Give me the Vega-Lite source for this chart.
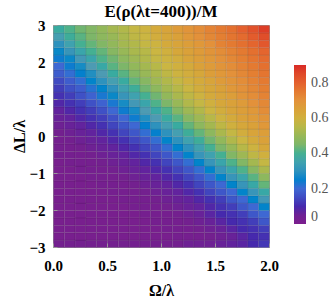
{
"$schema":"https://vega.github.io/schema/vega-lite/v6.json",
"width":216,"height":222,
"autosize":{"type":"none"},
"padding":{"left":53,"top":25,"right":63,"bottom":52},
"background":"white",
"title":{"text":"E(ρ(λt=400))/M","font":"Liberation Serif","fontSize":17,"fontWeight":"bold","color":"#000","anchor":"middle","frame":"group","offset":-3},
"config":{"view":{"stroke":"#b0b0b0"},"font":"Liberation Serif"},
"data":{"values":[
{"x":0,"y":-3,"v":0.04},{"x":0,"y":-2.8,"v":0.02},{"x":0,"y":-2.6,"v":0.02},{"x":0,"y":-2.4,"v":0.02},{"x":0,"y":-2.2,"v":0.02},{"x":0,"y":-2,"v":0.02},{"x":0,"y":-1.8,"v":0.02},{"x":0,"y":-1.6,"v":0.02},{"x":0,"y":-1.4,"v":0.02},{"x":0,"y":-1.2,"v":0.02},{"x":0,"y":-1,"v":0.02},{"x":0,"y":-0.8,"v":0.02},{"x":0,"y":-0.6,"v":0.03},{"x":0,"y":-0.4,"v":0.03},{"x":0,"y":-0.2,"v":0.03},{"x":0,"y":0,"v":0.04},{"x":0,"y":0.2,"v":0.05},{"x":0,"y":0.4,"v":0.06},{"x":0,"y":0.6,"v":0.07},{"x":0,"y":0.8,"v":0.09},{"x":0,"y":1,"v":0.11},{"x":0,"y":1.2,"v":0.13},{"x":0,"y":1.4,"v":0.15},{"x":0,"y":1.6,"v":0.18},{"x":0,"y":1.8,"v":0.2},{"x":0,"y":2,"v":0.24},{"x":0,"y":2.2,"v":0.27},{"x":0,"y":2.4,"v":0.3},{"x":0,"y":2.6,"v":0.34},{"x":0,"y":2.8,"v":0.38},
{"x":0.1,"y":-3,"v":0.04},{"x":0.1,"y":-2.8,"v":0.02},{"x":0.1,"y":-2.6,"v":0.02},{"x":0.1,"y":-2.4,"v":0.02},{"x":0.1,"y":-2.2,"v":0.02},{"x":0.1,"y":-2,"v":0.02},{"x":0.1,"y":-1.8,"v":0.02},{"x":0.1,"y":-1.6,"v":0.02},{"x":0.1,"y":-1.4,"v":0.02},{"x":0.1,"y":-1.2,"v":0.02},{"x":0.1,"y":-1,"v":0.02},{"x":0.1,"y":-0.8,"v":0.03},{"x":0.1,"y":-0.6,"v":0.03},{"x":0.1,"y":-0.4,"v":0.03},{"x":0.1,"y":-0.2,"v":0.04},{"x":0.1,"y":0,"v":0.05},{"x":0.1,"y":0.2,"v":0.06},{"x":0.1,"y":0.4,"v":0.07},{"x":0.1,"y":0.6,"v":0.09},{"x":0.1,"y":0.8,"v":0.11},{"x":0.1,"y":1,"v":0.13},{"x":0.1,"y":1.2,"v":0.16},{"x":0.1,"y":1.4,"v":0.18},{"x":0.1,"y":1.6,"v":0.21},{"x":0.1,"y":1.8,"v":0.24},{"x":0.1,"y":2,"v":0.27},{"x":0.1,"y":2.2,"v":0.31},{"x":0.1,"y":2.4,"v":0.35},{"x":0.1,"y":2.6,"v":0.39},{"x":0.1,"y":2.8,"v":0.41},
{"x":0.2,"y":-3,"v":0.04},{"x":0.2,"y":-2.8,"v":0.02},{"x":0.2,"y":-2.6,"v":0.02},{"x":0.2,"y":-2.4,"v":0.02},{"x":0.2,"y":-2.2,"v":0.02},{"x":0.2,"y":-2,"v":0.02},{"x":0.2,"y":-1.8,"v":0.02},{"x":0.2,"y":-1.6,"v":0.02},{"x":0.2,"y":-1.4,"v":0.02},{"x":0.2,"y":-1.2,"v":0.02},{"x":0.2,"y":-1,"v":0.03},{"x":0.2,"y":-0.8,"v":0.03},{"x":0.2,"y":-0.6,"v":0.03},{"x":0.2,"y":-0.4,"v":0.04},{"x":0.2,"y":-0.2,"v":0.05},{"x":0.2,"y":0,"v":0.06},{"x":0.2,"y":0.2,"v":0.07},{"x":0.2,"y":0.4,"v":0.09},{"x":0.2,"y":0.6,"v":0.11},{"x":0.2,"y":0.8,"v":0.13},{"x":0.2,"y":1,"v":0.16},{"x":0.2,"y":1.2,"v":0.18},{"x":0.2,"y":1.4,"v":0.21},{"x":0.2,"y":1.6,"v":0.25},{"x":0.2,"y":1.8,"v":0.28},{"x":0.2,"y":2,"v":0.32},{"x":0.2,"y":2.2,"v":0.36},{"x":0.2,"y":2.4,"v":0.4},{"x":0.2,"y":2.6,"v":0.42},{"x":0.2,"y":2.8,"v":0.44},
{"x":0.3,"y":-3,"v":0.04},{"x":0.3,"y":-2.8,"v":0.02},{"x":0.3,"y":-2.6,"v":0.02},{"x":0.3,"y":-2.4,"v":0.02},{"x":0.3,"y":-2.2,"v":0.02},{"x":0.3,"y":-2,"v":0.02},{"x":0.3,"y":-1.8,"v":0.02},{"x":0.3,"y":-1.6,"v":0.02},{"x":0.3,"y":-1.4,"v":0.02},{"x":0.3,"y":-1.2,"v":0.03},{"x":0.3,"y":-1,"v":0.03},{"x":0.3,"y":-0.8,"v":0.03},{"x":0.3,"y":-0.6,"v":0.04},{"x":0.3,"y":-0.4,"v":0.05},{"x":0.3,"y":-0.2,"v":0.06},{"x":0.3,"y":0,"v":0.07},{"x":0.3,"y":0.2,"v":0.09},{"x":0.3,"y":0.4,"v":0.11},{"x":0.3,"y":0.6,"v":0.13},{"x":0.3,"y":0.8,"v":0.16},{"x":0.3,"y":1,"v":0.19},{"x":0.3,"y":1.2,"v":0.22},{"x":0.3,"y":1.4,"v":0.26},{"x":0.3,"y":1.6,"v":0.29},{"x":0.3,"y":1.8,"v":0.33},{"x":0.3,"y":2,"v":0.36},{"x":0.3,"y":2.2,"v":0.4},{"x":0.3,"y":2.4,"v":0.43},{"x":0.3,"y":2.6,"v":0.45},{"x":0.3,"y":2.8,"v":0.46},
{"x":0.4,"y":-3,"v":0.04},{"x":0.4,"y":-2.8,"v":0.02},{"x":0.4,"y":-2.6,"v":0.02},{"x":0.4,"y":-2.4,"v":0.02},{"x":0.4,"y":-2.2,"v":0.02},{"x":0.4,"y":-2,"v":0.02},{"x":0.4,"y":-1.8,"v":0.02},{"x":0.4,"y":-1.6,"v":0.02},{"x":0.4,"y":-1.4,"v":0.03},{"x":0.4,"y":-1.2,"v":0.03},{"x":0.4,"y":-1,"v":0.03},{"x":0.4,"y":-0.8,"v":0.04},{"x":0.4,"y":-0.6,"v":0.05},{"x":0.4,"y":-0.4,"v":0.06},{"x":0.4,"y":-0.2,"v":0.07},{"x":0.4,"y":0,"v":0.09},{"x":0.4,"y":0.2,"v":0.11},{"x":0.4,"y":0.4,"v":0.13},{"x":0.4,"y":0.6,"v":0.16},{"x":0.4,"y":0.8,"v":0.19},{"x":0.4,"y":1,"v":0.23},{"x":0.4,"y":1.2,"v":0.26},{"x":0.4,"y":1.4,"v":0.3},{"x":0.4,"y":1.6,"v":0.33},{"x":0.4,"y":1.8,"v":0.37},{"x":0.4,"y":2,"v":0.41},{"x":0.4,"y":2.2,"v":0.43},{"x":0.4,"y":2.4,"v":0.46},{"x":0.4,"y":2.6,"v":0.48},{"x":0.4,"y":2.8,"v":0.49},
{"x":0.5,"y":-3,"v":0.04},{"x":0.5,"y":-2.8,"v":0.02},{"x":0.5,"y":-2.6,"v":0.02},{"x":0.5,"y":-2.4,"v":0.02},{"x":0.5,"y":-2.2,"v":0.02},{"x":0.5,"y":-2,"v":0.02},{"x":0.5,"y":-1.8,"v":0.02},{"x":0.5,"y":-1.6,"v":0.03},{"x":0.5,"y":-1.4,"v":0.03},{"x":0.5,"y":-1.2,"v":0.03},{"x":0.5,"y":-1,"v":0.04},{"x":0.5,"y":-0.8,"v":0.05},{"x":0.5,"y":-0.6,"v":0.06},{"x":0.5,"y":-0.4,"v":0.07},{"x":0.5,"y":-0.2,"v":0.09},{"x":0.5,"y":0,"v":0.11},{"x":0.5,"y":0.2,"v":0.14},{"x":0.5,"y":0.4,"v":0.16},{"x":0.5,"y":0.6,"v":0.2},{"x":0.5,"y":0.8,"v":0.23},{"x":0.5,"y":1,"v":0.27},{"x":0.5,"y":1.2,"v":0.3},{"x":0.5,"y":1.4,"v":0.34},{"x":0.5,"y":1.6,"v":0.38},{"x":0.5,"y":1.8,"v":0.42},{"x":0.5,"y":2,"v":0.44},{"x":0.5,"y":2.2,"v":0.47},{"x":0.5,"y":2.4,"v":0.49},{"x":0.5,"y":2.6,"v":0.5},{"x":0.5,"y":2.8,"v":0.52},
{"x":0.6,"y":-3,"v":0.04},{"x":0.6,"y":-2.8,"v":0.02},{"x":0.6,"y":-2.6,"v":0.02},{"x":0.6,"y":-2.4,"v":0.02},{"x":0.6,"y":-2.2,"v":0.02},{"x":0.6,"y":-2,"v":0.02},{"x":0.6,"y":-1.8,"v":0.03},{"x":0.6,"y":-1.6,"v":0.03},{"x":0.6,"y":-1.4,"v":0.03},{"x":0.6,"y":-1.2,"v":0.04},{"x":0.6,"y":-1,"v":0.05},{"x":0.6,"y":-0.8,"v":0.06},{"x":0.6,"y":-0.6,"v":0.07},{"x":0.6,"y":-0.4,"v":0.09},{"x":0.6,"y":-0.2,"v":0.11},{"x":0.6,"y":0,"v":0.14},{"x":0.6,"y":0.2,"v":0.17},{"x":0.6,"y":0.4,"v":0.2},{"x":0.6,"y":0.6,"v":0.24},{"x":0.6,"y":0.8,"v":0.28},{"x":0.6,"y":1,"v":0.31},{"x":0.6,"y":1.2,"v":0.35},{"x":0.6,"y":1.4,"v":0.38},{"x":0.6,"y":1.6,"v":0.42},{"x":0.6,"y":1.8,"v":0.45},{"x":0.6,"y":2,"v":0.48},{"x":0.6,"y":2.2,"v":0.5},{"x":0.6,"y":2.4,"v":0.52},{"x":0.6,"y":2.6,"v":0.53},{"x":0.6,"y":2.8,"v":0.54},
{"x":0.7,"y":-3,"v":0.04},{"x":0.7,"y":-2.8,"v":0.02},{"x":0.7,"y":-2.6,"v":0.02},{"x":0.7,"y":-2.4,"v":0.02},{"x":0.7,"y":-2.2,"v":0.02},{"x":0.7,"y":-2,"v":0.03},{"x":0.7,"y":-1.8,"v":0.03},{"x":0.7,"y":-1.6,"v":0.03},{"x":0.7,"y":-1.4,"v":0.04},{"x":0.7,"y":-1.2,"v":0.05},{"x":0.7,"y":-1,"v":0.06},{"x":0.7,"y":-0.8,"v":0.07},{"x":0.7,"y":-0.6,"v":0.09},{"x":0.7,"y":-0.4,"v":0.11},{"x":0.7,"y":-0.2,"v":0.14},{"x":0.7,"y":0,"v":0.17},{"x":0.7,"y":0.2,"v":0.2},{"x":0.7,"y":0.4,"v":0.24},{"x":0.7,"y":0.6,"v":0.28},{"x":0.7,"y":0.8,"v":0.32},{"x":0.7,"y":1,"v":0.35},{"x":0.7,"y":1.2,"v":0.39},{"x":0.7,"y":1.4,"v":0.43},{"x":0.7,"y":1.6,"v":0.46},{"x":0.7,"y":1.8,"v":0.49},{"x":0.7,"y":2,"v":0.51},{"x":0.7,"y":2.2,"v":0.53},{"x":0.7,"y":2.4,"v":0.54},{"x":0.7,"y":2.6,"v":0.56},{"x":0.7,"y":2.8,"v":0.57},
{"x":0.8,"y":-3,"v":0.04},{"x":0.8,"y":-2.8,"v":0.02},{"x":0.8,"y":-2.6,"v":0.02},{"x":0.8,"y":-2.4,"v":0.02},{"x":0.8,"y":-2.2,"v":0.03},{"x":0.8,"y":-2,"v":0.03},{"x":0.8,"y":-1.8,"v":0.03},{"x":0.8,"y":-1.6,"v":0.04},{"x":0.8,"y":-1.4,"v":0.05},{"x":0.8,"y":-1.2,"v":0.06},{"x":0.8,"y":-1,"v":0.07},{"x":0.8,"y":-0.8,"v":0.09},{"x":0.8,"y":-0.6,"v":0.11},{"x":0.8,"y":-0.4,"v":0.14},{"x":0.8,"y":-0.2,"v":0.17},{"x":0.8,"y":0,"v":0.21},{"x":0.8,"y":0.2,"v":0.25},{"x":0.8,"y":0.4,"v":0.29},{"x":0.8,"y":0.6,"v":0.33},{"x":0.8,"y":0.8,"v":0.36},{"x":0.8,"y":1,"v":0.4},{"x":0.8,"y":1.2,"v":0.44},{"x":0.8,"y":1.4,"v":0.47},{"x":0.8,"y":1.6,"v":0.5},{"x":0.8,"y":1.8,"v":0.52},{"x":0.8,"y":2,"v":0.54},{"x":0.8,"y":2.2,"v":0.55},{"x":0.8,"y":2.4,"v":0.57},{"x":0.8,"y":2.6,"v":0.58},{"x":0.8,"y":2.8,"v":0.59},
{"x":0.9,"y":-3,"v":0.04},{"x":0.9,"y":-2.8,"v":0.02},{"x":0.9,"y":-2.6,"v":0.02},{"x":0.9,"y":-2.4,"v":0.03},{"x":0.9,"y":-2.2,"v":0.03},{"x":0.9,"y":-2,"v":0.03},{"x":0.9,"y":-1.8,"v":0.04},{"x":0.9,"y":-1.6,"v":0.05},{"x":0.9,"y":-1.4,"v":0.06},{"x":0.9,"y":-1.2,"v":0.07},{"x":0.9,"y":-1,"v":0.09},{"x":0.9,"y":-0.8,"v":0.11},{"x":0.9,"y":-0.6,"v":0.14},{"x":0.9,"y":-0.4,"v":0.17},{"x":0.9,"y":-0.2,"v":0.21},{"x":0.9,"y":0,"v":0.25},{"x":0.9,"y":0.2,"v":0.3},{"x":0.9,"y":0.4,"v":0.33},{"x":0.9,"y":0.6,"v":0.37},{"x":0.9,"y":0.8,"v":0.41},{"x":0.9,"y":1,"v":0.44},{"x":0.9,"y":1.2,"v":0.48},{"x":0.9,"y":1.4,"v":0.51},{"x":0.9,"y":1.6,"v":0.53},{"x":0.9,"y":1.8,"v":0.55},{"x":0.9,"y":2,"v":0.57},{"x":0.9,"y":2.2,"v":0.58},{"x":0.9,"y":2.4,"v":0.59},{"x":0.9,"y":2.6,"v":0.61},{"x":0.9,"y":2.8,"v":0.62},
{"x":1,"y":-3,"v":0.04},{"x":1,"y":-2.8,"v":0.02},{"x":1,"y":-2.6,"v":0.03},{"x":1,"y":-2.4,"v":0.03},{"x":1,"y":-2.2,"v":0.03},{"x":1,"y":-2,"v":0.04},{"x":1,"y":-1.8,"v":0.05},{"x":1,"y":-1.6,"v":0.06},{"x":1,"y":-1.4,"v":0.07},{"x":1,"y":-1.2,"v":0.09},{"x":1,"y":-1,"v":0.11},{"x":1,"y":-0.8,"v":0.14},{"x":1,"y":-0.6,"v":0.17},{"x":1,"y":-0.4,"v":0.21},{"x":1,"y":-0.2,"v":0.26},{"x":1,"y":0,"v":0.3},{"x":1,"y":0.2,"v":0.34},{"x":1,"y":0.4,"v":0.38},{"x":1,"y":0.6,"v":0.41},{"x":1,"y":0.8,"v":0.45},{"x":1,"y":1,"v":0.49},{"x":1,"y":1.2,"v":0.52},{"x":1,"y":1.4,"v":0.54},{"x":1,"y":1.6,"v":0.56},{"x":1,"y":1.8,"v":0.58},{"x":1,"y":2,"v":0.59},{"x":1,"y":2.2,"v":0.6},{"x":1,"y":2.4,"v":0.62},{"x":1,"y":2.6,"v":0.63},{"x":1,"y":2.8,"v":0.64},
{"x":1.1,"y":-3,"v":0.04},{"x":1.1,"y":-2.8,"v":0.03},{"x":1.1,"y":-2.6,"v":0.03},{"x":1.1,"y":-2.4,"v":0.03},{"x":1.1,"y":-2.2,"v":0.04},{"x":1.1,"y":-2,"v":0.05},{"x":1.1,"y":-1.8,"v":0.06},{"x":1.1,"y":-1.6,"v":0.07},{"x":1.1,"y":-1.4,"v":0.09},{"x":1.1,"y":-1.2,"v":0.11},{"x":1.1,"y":-1,"v":0.14},{"x":1.1,"y":-0.8,"v":0.17},{"x":1.1,"y":-0.6,"v":0.21},{"x":1.1,"y":-0.4,"v":0.26},{"x":1.1,"y":-0.2,"v":0.3},{"x":1.1,"y":0,"v":0.34},{"x":1.1,"y":0.2,"v":0.38},{"x":1.1,"y":0.4,"v":0.42},{"x":1.1,"y":0.6,"v":0.46},{"x":1.1,"y":0.8,"v":0.5},{"x":1.1,"y":1,"v":0.53},{"x":1.1,"y":1.2,"v":0.55},{"x":1.1,"y":1.4,"v":0.57},{"x":1.1,"y":1.6,"v":0.59},{"x":1.1,"y":1.8,"v":0.6},{"x":1.1,"y":2,"v":0.61},{"x":1.1,"y":2.2,"v":0.63},{"x":1.1,"y":2.4,"v":0.64},{"x":1.1,"y":2.6,"v":0.65},{"x":1.1,"y":2.8,"v":0.67},
{"x":1.2,"y":-3,"v":0.05},{"x":1.2,"y":-2.8,"v":0.03},{"x":1.2,"y":-2.6,"v":0.03},{"x":1.2,"y":-2.4,"v":0.04},{"x":1.2,"y":-2.2,"v":0.05},{"x":1.2,"y":-2,"v":0.06},{"x":1.2,"y":-1.8,"v":0.07},{"x":1.2,"y":-1.6,"v":0.09},{"x":1.2,"y":-1.4,"v":0.11},{"x":1.2,"y":-1.2,"v":0.14},{"x":1.2,"y":-1,"v":0.17},{"x":1.2,"y":-0.8,"v":0.21},{"x":1.2,"y":-0.6,"v":0.26},{"x":1.2,"y":-0.4,"v":0.3},{"x":1.2,"y":-0.2,"v":0.35},{"x":1.2,"y":0,"v":0.39},{"x":1.2,"y":0.2,"v":0.43},{"x":1.2,"y":0.4,"v":0.47},{"x":1.2,"y":0.6,"v":0.51},{"x":1.2,"y":0.8,"v":0.54},{"x":1.2,"y":1,"v":0.56},{"x":1.2,"y":1.2,"v":0.58},{"x":1.2,"y":1.4,"v":0.6},{"x":1.2,"y":1.6,"v":0.61},{"x":1.2,"y":1.8,"v":0.62},{"x":1.2,"y":2,"v":0.64},{"x":1.2,"y":2.2,"v":0.65},{"x":1.2,"y":2.4,"v":0.66},{"x":1.2,"y":2.6,"v":0.68},{"x":1.2,"y":2.8,"v":0.69},
{"x":1.3,"y":-3,"v":0.05},{"x":1.3,"y":-2.8,"v":0.03},{"x":1.3,"y":-2.6,"v":0.04},{"x":1.3,"y":-2.4,"v":0.05},{"x":1.3,"y":-2.2,"v":0.06},{"x":1.3,"y":-2,"v":0.07},{"x":1.3,"y":-1.8,"v":0.09},{"x":1.3,"y":-1.6,"v":0.11},{"x":1.3,"y":-1.4,"v":0.14},{"x":1.3,"y":-1.2,"v":0.17},{"x":1.3,"y":-1,"v":0.21},{"x":1.3,"y":-0.8,"v":0.26},{"x":1.3,"y":-0.6,"v":0.31},{"x":1.3,"y":-0.4,"v":0.35},{"x":1.3,"y":-0.2,"v":0.39},{"x":1.3,"y":0,"v":0.43},{"x":1.3,"y":0.2,"v":0.48},{"x":1.3,"y":0.4,"v":0.51},{"x":1.3,"y":0.6,"v":0.54},{"x":1.3,"y":0.8,"v":0.57},{"x":1.3,"y":1,"v":0.59},{"x":1.3,"y":1.2,"v":0.61},{"x":1.3,"y":1.4,"v":0.62},{"x":1.3,"y":1.6,"v":0.63},{"x":1.3,"y":1.8,"v":0.65},{"x":1.3,"y":2,"v":0.66},{"x":1.3,"y":2.2,"v":0.67},{"x":1.3,"y":2.4,"v":0.68},{"x":1.3,"y":2.6,"v":0.7},{"x":1.3,"y":2.8,"v":0.71},
{"x":1.4,"y":-3,"v":0.05},{"x":1.4,"y":-2.8,"v":0.04},{"x":1.4,"y":-2.6,"v":0.05},{"x":1.4,"y":-2.4,"v":0.06},{"x":1.4,"y":-2.2,"v":0.08},{"x":1.4,"y":-2,"v":0.09},{"x":1.4,"y":-1.8,"v":0.11},{"x":1.4,"y":-1.6,"v":0.14},{"x":1.4,"y":-1.4,"v":0.17},{"x":1.4,"y":-1.2,"v":0.21},{"x":1.4,"y":-1,"v":0.26},{"x":1.4,"y":-0.8,"v":0.31},{"x":1.4,"y":-0.6,"v":0.35},{"x":1.4,"y":-0.4,"v":0.4},{"x":1.4,"y":-0.2,"v":0.44},{"x":1.4,"y":0,"v":0.48},{"x":1.4,"y":0.2,"v":0.52},{"x":1.4,"y":0.4,"v":0.55},{"x":1.4,"y":0.6,"v":0.58},{"x":1.4,"y":0.8,"v":0.6},{"x":1.4,"y":1,"v":0.62},{"x":1.4,"y":1.2,"v":0.63},{"x":1.4,"y":1.4,"v":0.64},{"x":1.4,"y":1.6,"v":0.66},{"x":1.4,"y":1.8,"v":0.67},{"x":1.4,"y":2,"v":0.68},{"x":1.4,"y":2.2,"v":0.69},{"x":1.4,"y":2.4,"v":0.7},{"x":1.4,"y":2.6,"v":0.72},{"x":1.4,"y":2.8,"v":0.73},
{"x":1.5,"y":-3,"v":0.06},{"x":1.5,"y":-2.8,"v":0.05},{"x":1.5,"y":-2.6,"v":0.06},{"x":1.5,"y":-2.4,"v":0.08},{"x":1.5,"y":-2.2,"v":0.1},{"x":1.5,"y":-2,"v":0.11},{"x":1.5,"y":-1.8,"v":0.13},{"x":1.5,"y":-1.6,"v":0.17},{"x":1.5,"y":-1.4,"v":0.2},{"x":1.5,"y":-1.2,"v":0.26},{"x":1.5,"y":-1,"v":0.31},{"x":1.5,"y":-0.8,"v":0.36},{"x":1.5,"y":-0.6,"v":0.4},{"x":1.5,"y":-0.4,"v":0.45},{"x":1.5,"y":-0.2,"v":0.49},{"x":1.5,"y":0,"v":0.53},{"x":1.5,"y":0.2,"v":0.56},{"x":1.5,"y":0.4,"v":0.59},{"x":1.5,"y":0.6,"v":0.61},{"x":1.5,"y":0.8,"v":0.63},{"x":1.5,"y":1,"v":0.64},{"x":1.5,"y":1.2,"v":0.65},{"x":1.5,"y":1.4,"v":0.67},{"x":1.5,"y":1.6,"v":0.68},{"x":1.5,"y":1.8,"v":0.69},{"x":1.5,"y":2,"v":0.7},{"x":1.5,"y":2.2,"v":0.71},{"x":1.5,"y":2.4,"v":0.73},{"x":1.5,"y":2.6,"v":0.74},{"x":1.5,"y":2.8,"v":0.75},
{"x":1.6,"y":-3,"v":0.07},{"x":1.6,"y":-2.8,"v":0.06},{"x":1.6,"y":-2.6,"v":0.08},{"x":1.6,"y":-2.4,"v":0.1},{"x":1.6,"y":-2.2,"v":0.11},{"x":1.6,"y":-2,"v":0.13},{"x":1.6,"y":-1.8,"v":0.17},{"x":1.6,"y":-1.6,"v":0.2},{"x":1.6,"y":-1.4,"v":0.26},{"x":1.6,"y":-1.2,"v":0.31},{"x":1.6,"y":-1,"v":0.36},{"x":1.6,"y":-0.8,"v":0.41},{"x":1.6,"y":-0.6,"v":0.46},{"x":1.6,"y":-0.4,"v":0.5},{"x":1.6,"y":-0.2,"v":0.54},{"x":1.6,"y":0,"v":0.57},{"x":1.6,"y":0.2,"v":0.6},{"x":1.6,"y":0.4,"v":0.62},{"x":1.6,"y":0.6,"v":0.64},{"x":1.6,"y":0.8,"v":0.65},{"x":1.6,"y":1,"v":0.66},{"x":1.6,"y":1.2,"v":0.68},{"x":1.6,"y":1.4,"v":0.69},{"x":1.6,"y":1.6,"v":0.7},{"x":1.6,"y":1.8,"v":0.71},{"x":1.6,"y":2,"v":0.72},{"x":1.6,"y":2.2,"v":0.73},{"x":1.6,"y":2.4,"v":0.75},{"x":1.6,"y":2.6,"v":0.76},{"x":1.6,"y":2.8,"v":0.77},
{"x":1.7,"y":-3,"v":0.08},{"x":1.7,"y":-2.8,"v":0.08},{"x":1.7,"y":-2.6,"v":0.1},{"x":1.7,"y":-2.4,"v":0.11},{"x":1.7,"y":-2.2,"v":0.13},{"x":1.7,"y":-2,"v":0.17},{"x":1.7,"y":-1.8,"v":0.2},{"x":1.7,"y":-1.6,"v":0.26},{"x":1.7,"y":-1.4,"v":0.31},{"x":1.7,"y":-1.2,"v":0.36},{"x":1.7,"y":-1,"v":0.41},{"x":1.7,"y":-0.8,"v":0.46},{"x":1.7,"y":-0.6,"v":0.51},{"x":1.7,"y":-0.4,"v":0.55},{"x":1.7,"y":-0.2,"v":0.58},{"x":1.7,"y":0,"v":0.61},{"x":1.7,"y":0.2,"v":0.63},{"x":1.7,"y":0.4,"v":0.65},{"x":1.7,"y":0.6,"v":0.66},{"x":1.7,"y":0.8,"v":0.67},{"x":1.7,"y":1,"v":0.69},{"x":1.7,"y":1.2,"v":0.7},{"x":1.7,"y":1.4,"v":0.71},{"x":1.7,"y":1.6,"v":0.72},{"x":1.7,"y":1.8,"v":0.73},{"x":1.7,"y":2,"v":0.74},{"x":1.7,"y":2.2,"v":0.75},{"x":1.7,"y":2.4,"v":0.77},{"x":1.7,"y":2.6,"v":0.78},{"x":1.7,"y":2.8,"v":0.8},
{"x":1.8,"y":-3,"v":0.1},{"x":1.8,"y":-2.8,"v":0.1},{"x":1.8,"y":-2.6,"v":0.11},{"x":1.8,"y":-2.4,"v":0.13},{"x":1.8,"y":-2.2,"v":0.17},{"x":1.8,"y":-2,"v":0.2},{"x":1.8,"y":-1.8,"v":0.26},{"x":1.8,"y":-1.6,"v":0.31},{"x":1.8,"y":-1.4,"v":0.37},{"x":1.8,"y":-1.2,"v":0.42},{"x":1.8,"y":-1,"v":0.47},{"x":1.8,"y":-0.8,"v":0.52},{"x":1.8,"y":-0.6,"v":0.56},{"x":1.8,"y":-0.4,"v":0.59},{"x":1.8,"y":-0.2,"v":0.62},{"x":1.8,"y":0,"v":0.64},{"x":1.8,"y":0.2,"v":0.65},{"x":1.8,"y":0.4,"v":0.67},{"x":1.8,"y":0.6,"v":0.68},{"x":1.8,"y":0.8,"v":0.7},{"x":1.8,"y":1,"v":0.71},{"x":1.8,"y":1.2,"v":0.72},{"x":1.8,"y":1.4,"v":0.73},{"x":1.8,"y":1.6,"v":0.74},{"x":1.8,"y":1.8,"v":0.75},{"x":1.8,"y":2,"v":0.76},{"x":1.8,"y":2.2,"v":0.77},{"x":1.8,"y":2.4,"v":0.79},{"x":1.8,"y":2.6,"v":0.81},{"x":1.8,"y":2.8,"v":0.83},
{"x":1.9,"y":-3,"v":0.12},{"x":1.9,"y":-2.8,"v":0.11},{"x":1.9,"y":-2.6,"v":0.13},{"x":1.9,"y":-2.4,"v":0.17},{"x":1.9,"y":-2.2,"v":0.2},{"x":1.9,"y":-2,"v":0.26},{"x":1.9,"y":-1.8,"v":0.32},{"x":1.9,"y":-1.6,"v":0.37},{"x":1.9,"y":-1.4,"v":0.43},{"x":1.9,"y":-1.2,"v":0.48},{"x":1.9,"y":-1,"v":0.53},{"x":1.9,"y":-0.8,"v":0.57},{"x":1.9,"y":-0.6,"v":0.6},{"x":1.9,"y":-0.4,"v":0.63},{"x":1.9,"y":-0.2,"v":0.65},{"x":1.9,"y":0,"v":0.66},{"x":1.9,"y":0.2,"v":0.68},{"x":1.9,"y":0.4,"v":0.69},{"x":1.9,"y":0.6,"v":0.71},{"x":1.9,"y":0.8,"v":0.72},{"x":1.9,"y":1,"v":0.73},{"x":1.9,"y":1.2,"v":0.74},{"x":1.9,"y":1.4,"v":0.75},{"x":1.9,"y":1.6,"v":0.76},{"x":1.9,"y":1.8,"v":0.77},{"x":1.9,"y":2,"v":0.78},{"x":1.9,"y":2.2,"v":0.79},{"x":1.9,"y":2.4,"v":0.82},{"x":1.9,"y":2.6,"v":0.84},{"x":1.9,"y":2.8,"v":0.87}
]},
"mark":{"type":"rect","binSpacing":0,"stroke":"#000000","strokeWidth":0.4,"strokeOpacity":0.22},
"encoding":{
"x":{"field":"x","type":"quantitative","bin":{"binned":true,"step":0.1},"scale":{"domain":[0,2],"nice":false},
"axis":{"title":"Ω/λ","values":[0,0.5,1,1.5,2],"format":".1f","labelFlush":false,"labelOverlap":false,"grid":false,"domain":false,"ticks":true,"tickSize":-4,"tickColor":"#999999","labelFont":"Liberation Serif","labelFontWeight":"bold","labelFontSize":15,"labelColor":"#000","labelPadding":15,"titleFont":"Liberation Serif","titleFontWeight":"bold","titleFontSize":16,"titleColor":"#000","titlePadding":9}},
"y":{"field":"y","type":"quantitative","bin":{"binned":true,"step":0.2},"scale":{"domain":[-3,3],"nice":false},
"axis":{"title":"ΔL/λ","values":[-3,-2,-1,0,1,2,3],"format":"d","labelFlush":false,"labelOverlap":false,"grid":false,"domain":false,"ticks":true,"tickSize":-4,"tickColor":"#999999","labelFont":"Liberation Serif","labelFontWeight":"bold","labelFontSize":15,"labelColor":"#000","labelPadding":12,"titleFont":"Liberation Serif","titleFontWeight":"bold","titleFontSize":16,"titleColor":"#000","titlePadding":1}},
"color":{"field":"v","type":"quantitative",
"scale":{"type":"linear","domain":[0,0.04,0.1,0.2,0.33,0.45,0.58,0.7,0.8,0.9],"range":["#7c1e8d","#73208f","#4629ad","#3e68d3","#4d9bb3","#7db669","#cbb642","#e3913a","#e4602e","#d92a26"]},
"legend":{"title":null,"orient":"none","legendX":241,"legendY":40,"direction":"vertical","gradientLength":159,"gradientThickness":12,"gradientStrokeWidth":0,"values":[0,0.2,0.4,0.6,0.8],"labelExpr":"datum.value == 0 ? '0' : format(datum.value, '.1f')","labelFont":"Liberation Serif","labelFontSize":14,"labelColor":"#555555","labelOffset":5}}
}
}
